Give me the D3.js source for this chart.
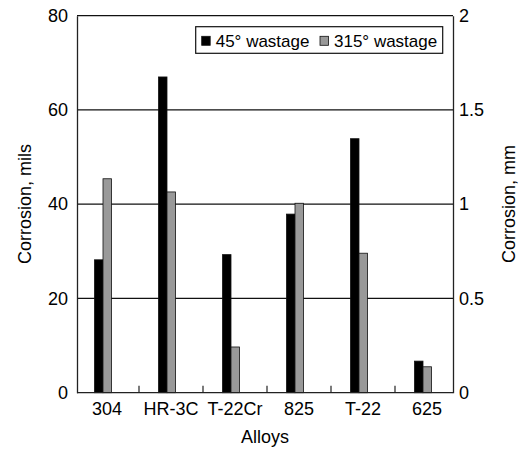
<!DOCTYPE html>
<html>
<head>
<meta charset="utf-8">
<script src="https://cdn.jsdelivr.net/npm/d3@7"></script>
<style>
  body { margin: 0; background: #fff; }
  svg { display: block; }
  text { font-family: "Liberation Sans", Arial, sans-serif; }
</style>
</head>
<body>
<script>
// data (mils)
var alloys = ["304", "HR-3C", "T-22Cr", "825", "T-22", "625"];
var series = ["45° wastage", "315° wastage"];
var wastage45 = [28.2, 67.0, 29.3, 37.9, 53.9, 6.7];
var wastage315 = [45.4, 42.6, 9.7, 40.2, 29.6, 5.5];
var milsTicks = [0, 20, 40, 60, 80];
var mmTicks = [0, 0.5, 1, 1.5, 2];

var width = 519, height = 449;
var margIzq = 77, margDer = 453, margSup = 15.7, margInf = 392.7;
var colores = ["#000000", "#999999"];
var fs = 18;

var svg = d3.select("body").append("svg")
  .attr("width", width)
  .attr("height", height)
  .attr("font-size", fs);

var y = d3.scaleLinear().domain([0, 80]).range([margInf, margSup]);
var yMm = d3.scaleLinear().domain([0, 2]).range([margInf, margSup]);
var x = d3.scaleBand().domain(alloys).range([75, 459]);
// the bar pair sits a little left of the band centre
var xs = d3.scaleBand().domain(series).range([x.bandwidth() / 2 - 12.5, x.bandwidth() / 2 + 4.5]);

///// gridlines /////
svg.append("g")
  .selectAll("line")
  .data(milsTicks.filter(d => d > 0))
  .join("line")
  .attr("x1", margIzq).attr("x2", margDer)
  .attr("y1", d => y(d)).attr("y2", d => y(d))
  .attr("stroke", "#111")
  .attr("stroke-width", 1.3);

///// bars /////
var filas = alloys.map((a, i) => ({ alloy: a, vals: [wastage45[i], wastage315[i]] }));

svg.append("g")
  .selectAll("g")
  .data(filas)
  .join("g")
  .attr("transform", d => `translate(${x(d.alloy)},0)`)
  .selectAll("rect")
  .data(d => d.vals.map((v, k) => ({ s: series[k], v: v, k: k })))
  .join("rect")
  .attr("x", d => xs(d.s))
  .attr("width", xs.bandwidth())
  .attr("y", d => y(d.v))
  .attr("height", d => y(0) - y(d.v))
  .attr("fill", d => colores[d.k])
  .attr("stroke", "#111")
  .attr("stroke-width", 0.8);

///// axes /////
var axisL = svg.append("g")
  .attr("transform", `translate(${margIzq},0)`)
  .call(d3.axisLeft(y).tickValues(milsTicks).tickSize(0).tickPadding(9).tickFormat(d3.format("d")));
axisL.select(".domain").attr("stroke", "#222").attr("stroke-width", 1.3);
axisL.selectAll("text").attr("font-size", fs).attr("fill", "#000").attr("font-family", "Liberation Sans, Arial, sans-serif");

var axisR = svg.append("g")
  .attr("transform", `translate(${margDer},0)`)
  .call(d3.axisRight(yMm).tickValues(mmTicks).tickSize(0).tickPadding(6).tickFormat(d => d));
axisR.select(".domain").attr("stroke", "#222").attr("stroke-width", 1.3);
axisR.selectAll("text").attr("font-size", fs).attr("fill", "#000").attr("font-family", "Liberation Sans, Arial, sans-serif");

// x axis: baseline + inner ticks between categories
svg.append("line")
  .attr("x1", margIzq).attr("x2", margDer)
  .attr("y1", margInf).attr("y2", margInf)
  .attr("stroke", "#222").attr("stroke-width", 1.3);

svg.append("g")
  .selectAll("line")
  .data(alloys.slice(1))
  .join("line")
  .attr("x1", d => x(d)).attr("x2", d => x(d))
  .attr("y1", margInf).attr("y2", margInf - 7)
  .attr("stroke", "#222").attr("stroke-width", 1.2);

svg.append("g")
  .selectAll("text")
  .data(alloys)
  .join("text")
  .attr("x", d => x(d) + x.bandwidth() / 2)
  .attr("y", 415)
  .attr("text-anchor", "middle")
  .text(d => d);

///// titles /////
svg.append("text")
  .attr("x", 265).attr("y", 443)
  .attr("text-anchor", "middle")
  .text("Alloys");

svg.append("text")
  .attr("transform", "translate(31,204) rotate(-90)")
  .attr("text-anchor", "middle")
  .text("Corrosion, mils");

svg.append("text")
  .attr("transform", "translate(515,204) rotate(-90)")
  .attr("text-anchor", "middle")
  .text("Corrosion, mm");

///// legend /////
var leyenda = svg.append("g");
leyenda.append("rect")
  .attr("x", 195.7).attr("y", 26.7)
  .attr("width", 247).attr("height", 26.6)
  .attr("fill", "#fff")
  .attr("stroke", "#111").attr("stroke-width", 1.2);

var posLeyenda = [201.7, 320];
var item = leyenda.selectAll("g.item")
  .data(series)
  .join("g")
  .attr("class", "item")
  .attr("transform", (d, i) => `translate(${posLeyenda[i]},0)`);

item.append("rect")
  .attr("x", 0).attr("y", 36.3)
  .attr("width", 8.5).attr("height", 9)
  .attr("fill", (d, i) => colores[i])
  .attr("stroke", "#111").attr("stroke-width", 0.8);

item.append("text")
  .attr("x", 14).attr("y", 46.5)
  .attr("font-size", 17)
  .text(d => d);
</script>
</body>
</html>
